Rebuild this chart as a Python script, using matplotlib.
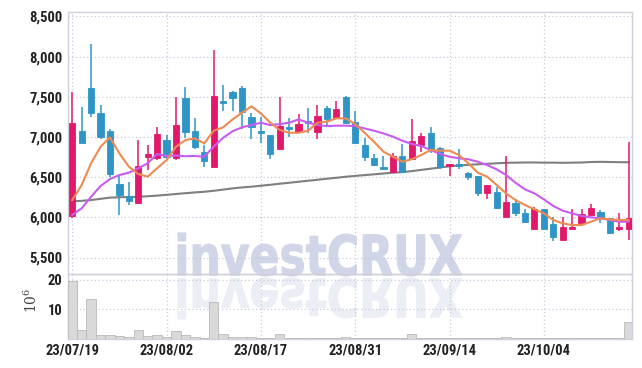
import numpy as np
import matplotlib.pyplot as plt
from matplotlib.textpath import TextPath
from matplotlib.patches import PathPatch, Rectangle
from matplotlib.font_manager import FontProperties
from matplotlib.transforms import Affine2D

# daily OHLC (KRW), red = up, blue = down
opens = [6020, 7077, 7608, 7297, 7077, 6414, 6265, 6174, 6754, 6740,
         6961, 6733, 7484, 7077, 6807, 6630, 7444, 7558, 7604, 7251,
         7070, 7020, 6850, 7111, 7065, 7186, 7065, 7364, 7239, 7500,
         7186, 6898, 6738, 6610, 6567, 6763, 6729, 6903, 7052, 6862,
         6638, 6663, 6555, 6514, 6298, 6315, 6000, 6182, 6050, 5859,
         6100, 5917, 5718, 5859, 5934, 6033, 6066, 5988, 5851, 5859]
highs = [7555, 7368, 8150, 7397, 7098, 6518, 6435, 6961, 6896, 7118,
         7020, 7500, 7625, 7234, 6900, 8085, 7646, 7570, 7633, 7293,
         7244, 7030, 7492, 7232, 7280, 7355, 7400, 7390, 7442, 7505,
         7326, 6990, 6788, 6766, 6804, 6912, 7218, 7052, 7123, 6875,
         6663, 6846, 6560, 6514, 6397, 6372, 6763, 6224, 6100, 6132,
         6100, 6008, 6000, 6100, 6108, 6165, 6091, 5990, 6050, 6940]
lows = [5990, 6920, 7244, 6970, 6498, 6029, 6153, 6165, 6588, 6712,
        6725, 6713, 6983, 6850, 6630, 6630, 7328, 7328, 7094, 6970,
        6920, 6722, 6840, 7003, 7060, 7052, 6970, 7118, 7230, 7170,
        6920, 6704, 6640, 6595, 6560, 6550, 6715, 6816, 6804, 6600,
        6514, 6597, 6464, 6265, 6231, 6100, 6000, 6017, 5930, 5850,
        5850, 5709, 5718, 5842, 5934, 6033, 5934, 5788, 5834, 5718]
closes = [7169, 6928, 7293, 7003, 6539, 6281, 6207, 6638, 6787, 7036,
          6754, 7147, 7065, 6878, 6695, 7509, 7424, 7488, 7305, 7127,
          7050, 6788, 7136, 7094, 7160, 7170, 7260, 7219, 7343, 7177,
          6928, 6754, 6655, 6600, 6763, 6567, 6953, 7011, 6853, 6622,
          6663, 6638, 6498, 6298, 6397, 6116, 6190, 6050, 5945, 6100,
          5859, 5759, 5876, 5876, 6041, 6112, 5991, 5809, 5884, 5988]

# moving averages as drawn (they include days before the window)
ma5 = [6215, 6402, 6672, 6878, 6994, 6796, 6630, 6539, 6505, 6610,
       6713, 6878, 6961, 6983, 6920, 7077, 7119, 7218, 7301, 7380,
       7293, 7177, 7086, 7052, 7052, 7077, 7177, 7190, 7231, 7231,
       7160, 7052, 6940, 6816, 6754, 6692, 6722, 6775, 6837, 6829,
       6829, 6775, 6672, 6555, 6505, 6402, 6298, 6215, 6153, 6100,
       6050, 5967, 5925, 5904, 5904, 5945, 5988, 5975, 5967, 5967]
ma20 = [6029, 6112, 6256, 6389, 6476, 6526, 6555, 6610, 6672, 6788,
        6763, 6770, 6760, 6763, 6754, 6880, 6990, 7070, 7120, 7147,
        7177, 7147, 7160, 7177, 7218, 7177, 7147, 7135, 7140, 7140,
        7135, 7106, 7077, 7044, 7003, 6953, 6912, 6887, 6837, 6788,
        6754, 6734, 6722, 6692, 6650, 6597, 6526, 6430, 6348, 6298,
        6224, 6141, 6083, 6050, 6017, 6000, 5988, 5967, 5945, 5945]
ma60 = [6199, 6205, 6215, 6230, 6245, 6250, 6252, 6255, 6262, 6270,
        6280, 6290, 6300, 6310, 6318, 6330, 6345, 6360, 6372, 6381,
        6393, 6405, 6418, 6430, 6443, 6455, 6467, 6480, 6492, 6505,
        6515, 6525, 6535, 6545, 6555, 6562, 6575, 6590, 6605, 6620,
        6635, 6645, 6652, 6660, 6665, 6672, 6678, 6680, 6682, 6682,
        6680, 6680, 6678, 6680, 6682, 6688, 6690, 6688, 6686, 6685]

# volume in millions of shares
volume = [19.7, 3.2, 13.4, 1.5, 1.5, 1.1, 0.8, 3.0, 1.0, 1.2,
          0.6, 2.8, 1.5, 0.6, 0.2, 12.4, 1.8, 0.8, 0.8, 0.6,
          0.5, 0.2, 1.8, 0.3, 0.4, 0.4, 0.4, 0.4, 0.3, 0.6,
          0.3, 0.5, 0.3, 0.2, 0.3, 0.2, 1.8, 0.4, 0.3, 0.3,
          0.2, 0.3, 0.2, 0.2, 0.2, 0.3, 0.6, 0.2, 0.2, 0.2,
          0.2, 0.2, 0.2, 0.2, 0.2, 0.2, 0.2, 0.2, 0.2, 5.6]

tick_pos = [0, 10, 20, 30, 40, 50]
tick_labels = ['23/07/19', '23/08/02', '23/08/17', '23/08/31', '23/09/14', '23/10/04']
price_ticks = [5500, 6000, 6500, 7000, 7500, 8000, 8500]

UP = '#e2196b'
DOWN = '#2f95c6'
FRAME = '#cfd0dc'
GRID = '#c8cadc'
TXT = '#222222'

plt.rcParams['font.family'] = ['Roboto Condensed', 'DejaVu Sans']

fig = plt.figure(figsize=(6.42, 3.68), dpi=100)
W, H = 642.0, 368.0

def fx(px):
    return px / W

def fy(py):
    return 1 - py / H

ax = fig.add_axes([fx(68), fy(274), fx(632) - fx(68), fy(12) - fy(274)])
axv = fig.add_axes([fx(68), fy(339), fx(632) - fx(68), fy(274) - fy(339)], sharex=ax)
for a in (ax, axv):
    a.set_facecolor('none')
    for s in a.spines.values():
        s.set_color(FRAME)
        s.set_linewidth(1.0)

# watermark with reflection, behind the axes
prop = FontProperties(family='DejaVu Sans', weight='bold')
tp = TextPath((0, 0), 'investCRUX', prop=prop, size=10)
ext = tp.get_extents()
x0, x1, ytop, base = 178, 462, 233, 276
sx = (fx(x1) - fx(x0)) / ext.width
sy = (fy(ytop) - fy(base)) / ext.height
main_tr = Affine2D().translate(-ext.x0, -ext.y0).scale(sx, sy).translate(fx(x0), fy(base))
refl_tr = Affine2D().translate(-ext.x0, -ext.y0).scale(sx, -sy * 0.95).translate(fx(x0), fy(base + 2))
fig.add_artist(PathPatch(main_tr.transform_path(tp), transform=fig.transFigure,
                         facecolor='#d0d5e8', edgecolor='#d0d5e8', linewidth=0.8, zorder=-5))
fig.add_artist(PathPatch(refl_tr.transform_path(tp), transform=fig.transFigure,
                         facecolor='#eceef5', edgecolor='#eceef5', linewidth=0.8, zorder=-6))

# candles
x = np.arange(len(closes))
bw = 0.66
for i in x:
    o, h, l, c = opens[i], highs[i], lows[i], closes[i]
    col = UP if c >= o else DOWN
    ax.vlines(i, l, h, color=col, linewidth=1.1, zorder=3)
    lo, hi = min(o, c), max(o, c)
    if hi - lo < 25:
        hi = lo + 25
    ax.add_patch(Rectangle((i - bw / 2, lo), bw, hi - lo, facecolor=col,
                           edgecolor=col, linewidth=0.6, zorder=4))

ax.plot(x, ma60, color='#7f7f7f', linewidth=1.5, zorder=2)
ax.plot(x, ma20, color='#c95cf0', linewidth=1.5, zorder=5)
ax.plot(x, ma5, color='#ee8a52', linewidth=1.5, zorder=5)

ax.set_xlim(-0.45, 59.35)
ax.set_ylim(5295, 8554)
ax.set_yticks(price_ticks)
ax.set_yticklabels([f'{v:,}' for v in price_ticks])
ax.set_xticks(tick_pos)
ax.grid(True, color=GRID, linestyle=(0, (1, 2)), linewidth=0.9)
ax.set_axisbelow(True)
ax.tick_params(axis='both', length=0, labelsize=10.5, colors=TXT, pad=4)
ax.tick_params(axis='x', labelbottom=False)
for t in ax.get_yticklabels():
    t.set_fontweight('bold')

# volume
axv.bar(x, volume, width=1.0, color='#d9d9d9', edgecolor='#b9b9b9', linewidth=0.6, zorder=3)
axv.set_ylim(0, 22)
axv.set_yticks([10, 20])
axv.set_xticks(tick_pos)
axv.set_xticklabels(tick_labels)
axv.grid(True, color=GRID, linestyle=(0, (1, 2)), linewidth=0.9)
axv.set_axisbelow(True)
axv.tick_params(axis='both', length=0, labelsize=10.5, colors=TXT, pad=4)
axv.tick_params(axis='x', pad=3)
for t in axv.get_yticklabels() + axv.get_xticklabels():
    t.set_fontweight('bold')
fig.text(fx(31), fy(300), r'$10^6$', rotation=90, ha='center', va='center',
         fontsize=10, color='#444444', family='DejaVu Serif', math_fontfamily='dejavuserif')

fig.savefig('out.png', dpi=100)
